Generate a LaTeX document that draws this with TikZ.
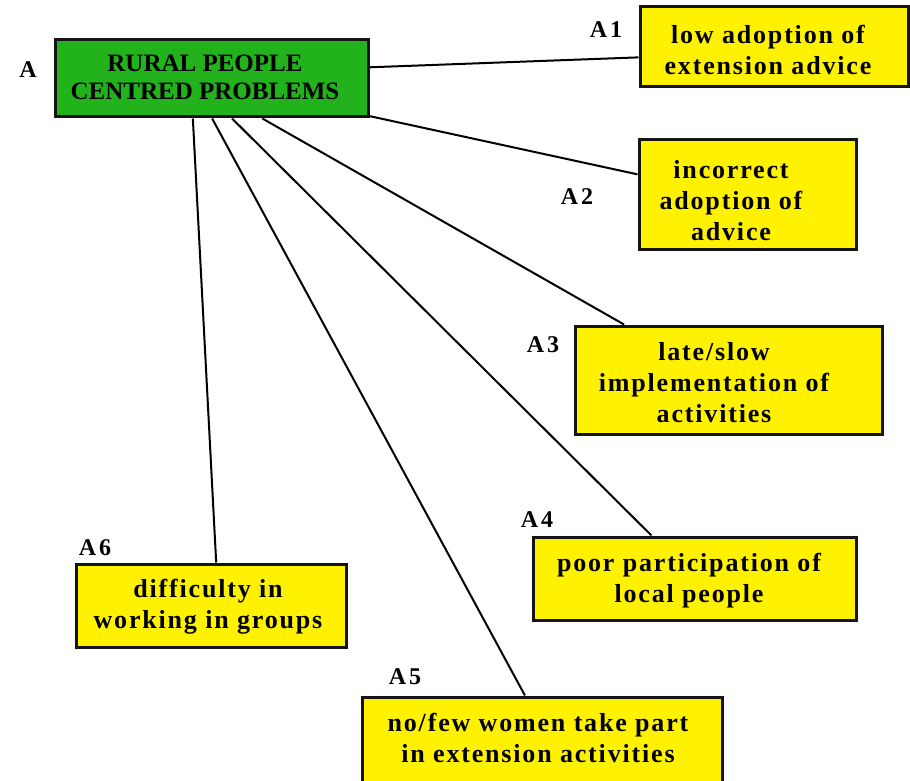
\documentclass[tikz,border=0pt]{standalone}
\usepackage{fontspec}
\setmainfont{Liberation Serif}
\newfontfamily\spacedserif[LetterSpace=7]{Liberation Serif}
\newfontfamily\tagserif[LetterSpace=12]{Liberation Serif}
\usetikzlibrary{calc}
\definecolor{boxgreen}{RGB}{34,178,28}
\definecolor{boxyellow}{RGB}{255,242,0}
\definecolor{edge}{RGB}{20,20,20}
\tikzset{
  probbox/.style={draw=edge, line width=3pt, inner sep=0pt, anchor=center},
  mainbox/.style={probbox, fill=boxgreen},
  subbox/.style={probbox, fill=boxyellow},
  maintext/.style={align=center, inner sep=0pt, font=\fontsize{25}{28}\selectfont\bfseries},
  subtext/.style={align=center, inner sep=0pt, font=\fontsize{26}{31}\selectfont\spacedserif\bfseries},
  tag/.style={inner sep=0pt, font=\fontsize{24}{28}\selectfont\tagserif\bfseries},
  link/.style={draw=black, line width=2pt},
}
\begin{document}
\begin{tikzpicture}[x=1pt,y=-1pt]
\useasboundingbox (0,0) rectangle (910,781);
\clip (0,0) rectangle (910,781);

% problem boxes
\node[mainbox, minimum width=313pt, minimum height=77pt] (A) at (211.5,78.5) {};
\node[subbox, minimum width=268pt, minimum height=80pt]  (A1) at (774,47) {};
\node[subbox, minimum width=217pt, minimum height=109pt] (A2) at (747.5,194.5) {};
\node[subbox, minimum width=307pt, minimum height=108pt] (A3) at (728.5,380) {};
\node[subbox, minimum width=323pt, minimum height=83pt]  (A4) at (694.5,578.5) {};
\node[subbox, minimum width=360pt, minimum height=93pt]  (A5) at (542,743.5) {};
\node[subbox, minimum width=270pt, minimum height=83pt]  (A6) at (211,605.5) {};

% box texts
\node[maintext] (tA)  at (205,77)  {RURAL PEOPLE\\CENTRED PROBLEMS};
\node[subtext]  (tA1) at (768,50)  {low adoption of\\extension advice};
\node[subtext]  (tA2) at (731,201) {incorrect\\adoption of\\advice};
\node[subtext]  (tA3) at (714,383) {late/slow\\implementation of\\activities};
\node[subtext]  (tA4) at (689,581) {poor participation of\\local people};
\node[subtext]  (tA5) at (538,738) {no/few women take part\\in extension activities};
\node[subtext]  (tA6) at (208,607) {difficulty in\\working in groups};

% labels
\node[tag] (lA)  at (28,70)   {A};
\node[tag] (lA1) at (606,30)  {A1};
\node[tag] (lA2) at (577,197) {A2};
\node[tag] (lA3) at (543,345) {A3};
\node[tag] (lA4) at (537,520) {A4};
\node[tag] (lA5) at (405,677) {A5};
\node[tag] (lA6) at (95,548)  {A6};

% connectors from the main problem
\draw[link] ($(A.north east)!0.36!(A.south east)$) -- ($(A1.north west)!0.625!(A1.south west)$);
\draw[link] ($(A.north east)!0.97!(A.south east)$) -- ($(A2.north west)!0.32!(A2.south west)$);
\draw[link] ($(A.south west)!0.661!(A.south east)$) -- ($(A3.north west)!0.163!(A3.north east)$);
\draw[link] ($(A.south west)!0.565!(A.south east)$) -- ($(A4.north west)!0.368!(A4.north east)$);
\draw[link] ($(A.south west)!0.502!(A.south east)$) -- ($(A5.north west)!0.453!(A5.north east)$);
\draw[link] ($(A.south west)!0.441!(A.south east)$) -- ($(A6.north west)!0.519!(A6.north east)$);
\end{tikzpicture}
\end{document}
